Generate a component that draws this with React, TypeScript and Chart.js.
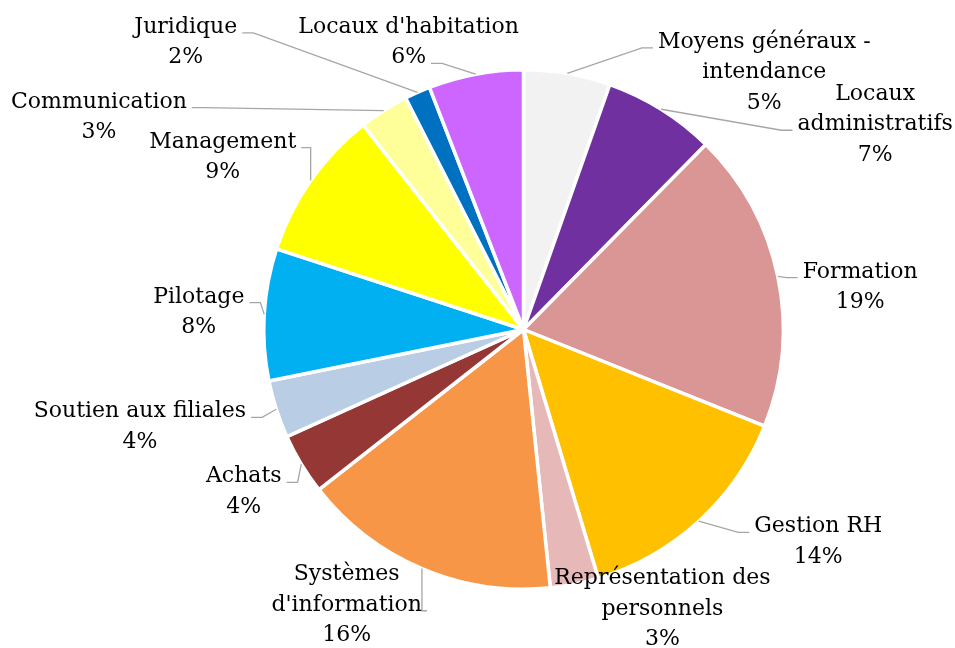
import React, { useEffect, useRef } from "react";
import { Chart, registerables } from "chart.js";

Chart.register(...registerables);

const CATEGORIES: string[][] = [
  ["Moyens généraux -", "intendance"],
  ["Locaux", "administratifs"],
  ["Formation"],
  ["Gestion RH"],
  ["Représentation des", "personnels"],
  ["Systèmes", "d'information"],
  ["Achats"],
  ["Soutien aux filiales"],
  ["Pilotage"],
  ["Management"],
  ["Communication"],
  ["Juridique"],
  ["Locaux d'habitation"],
];

const VALUES: number[] = [5.4, 7.0, 18.7, 14.3, 3.0, 16.1, 3.8, 3.6, 8.2, 9.4, 3.1, 1.6, 5.9];

const COLORS: string[] = [
  "#F2F2F2",
  "#7030A0",
  "#D99694",
  "#FFC000",
  "#E6B9B8",
  "#F79646",
  "#953735",
  "#B9CDE5",
  "#00B0F0",
  "#FFFF00",
  "#FFFF99",
  "#0070C0",
  "#CC66FF",
];

// Label placement: text block center x / first-line center y, relative to pie center, in radius units.
// attach: index of the text line the leader connects to (-1 = no leader)
const LABEL_LAYOUT: { dx: number; dy: number; attach: number }[] = [
  { dx: 241 / 260, dy: -290 / 260, attach: 0 },
  { dx: 352 / 260, dy: -238 / 260, attach: 1 },
  { dx: 337 / 260, dy: -60 / 260, attach: 0 },
  { dx: 295 / 260, dy: 195 / 260, attach: 0 },
  { dx: 139 / 260, dy: 247 / 260, attach: -1 },
  { dx: -177 / 260, dy: 243 / 260, attach: 1 },
  { dx: -280 / 260, dy: 145 / 260, attach: 0 },
  { dx: -384 / 260, dy: 80 / 260, attach: 0 },
  { dx: -325 / 260, dy: -35 / 260, attach: 0 },
  { dx: -301 / 260, dy: -190 / 260, attach: 0 },
  { dx: -425 / 260, dy: -230 / 260, attach: 0 },
  { dx: -338 / 260, dy: -305 / 260, attach: 0 },
  { dx: -115 / 260, dy: -305 / 260, attach: 1 },
];

const FONT = "22px 'DejaVu Serif'";
const LINE_H = 30.5;
const CAP_HALF = 8;

const outsideLabels = {
  id: "outsideLabels",
  afterDatasetsDraw(chart: any) {
    const ctx = chart.ctx as CanvasRenderingContext2D;
    const meta = chart.getDatasetMeta(0);
    const data = chart.data.datasets[0].data as number[];
    const total = data.reduce((a, b) => a + b, 0);
    ctx.save();
    ctx.font = FONT;
    meta.data.forEach((arc: any, i: number) => {
      const R = arc.outerRadius;
      const cx = arc.x + LABEL_LAYOUT[i].dx * R;
      const cy = arc.y + LABEL_LAYOUT[i].dy * R;
      const pct = Math.round((data[i] / total) * 100) + "%";
      const lines = [...CATEGORIES[i], pct];
      // leader line
      const att = LABEL_LAYOUT[i].attach;
      if (att >= 0) {
        const mid = (arc.startAngle + arc.endAngle) / 2;
        const px = arc.x + Math.cos(mid) * R;
        const py = arc.y + Math.sin(mid) * R;
        const w = ctx.measureText(lines[att]).width;
        const s = px > cx ? 1 : -1;
        const edge = cx + (s * w) / 2;
        const ly = cy + att * LINE_H + CAP_HALF;
        const endX = edge + 5 * s;
        let elbowX = edge + 16 * s;
        if ((px - elbowX) * s < 0) elbowX = px;
        ctx.strokeStyle = "#A6A6A6";
        ctx.lineWidth = 1.3;
        ctx.beginPath();
        ctx.moveTo(px, py);
        ctx.lineTo(elbowX, ly);
        ctx.lineTo(endX, ly);
        ctx.stroke();
      }
      ctx.fillStyle = "#000000";
      ctx.textAlign = "center";
      ctx.textBaseline = "alphabetic";
      lines.forEach((t, k) => {
        ctx.fillText(t, cx, cy + k * LINE_H + CAP_HALF);
      });
    });
    ctx.restore();
  },
};

export default function App() {
  const ref = useRef<HTMLCanvasElement | null>(null);
  useEffect(() => {
    if (!ref.current) return;
    const chart = new Chart(ref.current, {
      type: "pie",
      data: {
        labels: CATEGORIES.map((c) => c.join(" ")),
        datasets: [
          {
            data: VALUES,
            backgroundColor: COLORS,
            borderColor: "#FFFFFF",
            borderWidth: 3.5,
          },
        ],
      },
      options: {
        responsive: false,
        animation: false,
        layout: { padding: { top: 68, bottom: 57, left: 262, right: 170 } },
        plugins: {
          legend: { display: false },
          tooltip: { enabled: false },
        },
      },
      plugins: [outsideLabels],
    });
    return () => chart.destroy();
  }, []);
  return (
    <div style={{ position: "fixed", left: 0, top: 0, width: 955, height: 648, background: "#FFFFFF" }}>
      <canvas ref={ref} width={955} height={648} style={{ width: 955, height: 648 }} />
    </div>
  );
}
